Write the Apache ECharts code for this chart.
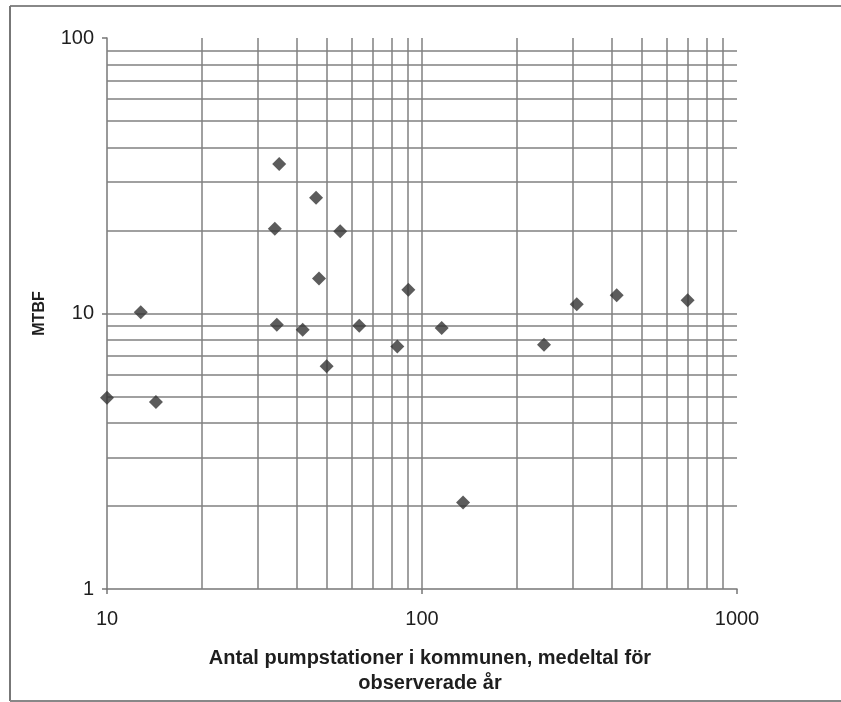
<!DOCTYPE html>
<html>
<head>
<meta charset="utf-8">
<script src="https://cdn.jsdelivr.net/npm/echarts@6/dist/echarts.min.js"></script>
<style>
  html, body { margin: 0; padding: 0; background: #fff; }
  #chart { width: 841px; height: 702px; }
</style>
</head>
<body>
<div id="chart"></div>
<script>
// Antal pumpstationer (x) och MTBF (y) per kommun
const pumpStations = [10, 12.8, 14.3, 35.2, 46.1, 34.1, 55.0, 47.1, 90.5, 34.6, 41.8, 63.2, 115.5, 83.5, 49.8, 135, 244, 310, 415, 697];
const mtbf         = [4.95, 10.1, 4.77, 34.9, 26.3, 20.3, 19.9, 13.4, 12.2, 9.1, 8.73, 9.02, 8.85, 7.59, 6.43, 2.06, 7.70, 10.8, 11.65, 11.17];

// Rutnätslinjer (logaritmiska delstreck)
const xGridValues = [20, 30, 40, 50, 60, 70, 80, 90, 100, 200, 300, 400, 500, 600, 700, 800, 900];
const yGridValues = [2, 3, 4, 5, 6, 7, 8, 9, 10, 20, 30, 40, 50, 60, 70, 80, 90];

const xTitle1 = 'Antal pumpstationer i kommunen, medeltal för';
const xTitle2 = 'observerade år';
const yTitle = 'MTBF';

const points = pumpStations.map((x, i) => [x, mtbf[i]]);
const gridColor = '#808080';
const textColor = '#1e1e1e';
const font = '"Liberation Sans", Arial, sans-serif';

const gridLines = [
  ...xGridValues.map(v => ({ xAxis: v })),
  ...yGridValues.map(v => ({ yAxis: v }))
];

const chart = echarts.init(document.getElementById('chart'), null, { renderer: 'canvas' });
chart.setOption({
  animation: false,
  backgroundColor: '#fff',
  grid: { left: 107, right: 104, top: 38, bottom: 113, containLabel: false },
  xAxis: {
    type: 'log', logBase: 10, min: 10, max: 1000,
    axisLine: { show: true, lineStyle: { color: '#777', width: 1.5 } },
    axisTick: { show: true, length: 5, lineStyle: { color: '#777', width: 1.5 } },
    minorTick: { show: false },
    splitLine: { show: false },
    axisLabel: { color: textColor, fontSize: 20, fontFamily: font, margin: 20,
                 formatter: v => String(Math.round(v)) }
  },
  yAxis: {
    type: 'log', logBase: 10, min: 1, max: 100,
    name: yTitle, nameLocation: 'middle', nameGap: 59, nameRotate: 90,
    nameTextStyle: { color: textColor, fontSize: 16, fontWeight: 'bold', fontFamily: font },
    axisLine: { show: true, lineStyle: { color: '#777', width: 1.5 } },
    axisTick: { show: true, length: 5, lineStyle: { color: '#777', width: 1.5 } },
    minorTick: { show: false },
    splitLine: { show: false },
    axisLabel: { color: textColor, fontSize: 20, fontFamily: font, margin: 13,
                 formatter: v => String(Math.round(v)) }
  },
  graphic: [
    { type: 'text', x: 430, y: 648, z: 10,
      style: { text: xTitle1, fill: textColor, font: 'bold 20px ' + font,
               textAlign: 'center', textVerticalAlign: 'top' } },
    { type: 'text', x: 430, y: 673, z: 10,
      style: { text: xTitle2, fill: textColor, font: 'bold 20px ' + font,
               textAlign: 'center', textVerticalAlign: 'top' } },
    // ram runt diagrammet
    { type: 'line', shape: { x1: 10, y1: 6, x2: 841, y2: 6 }, style: { stroke: '#888', lineWidth: 2 } },
    { type: 'line', shape: { x1: 10, y1: 6, x2: 10, y2: 701 }, style: { stroke: '#777', lineWidth: 2 } },
    { type: 'line', shape: { x1: 10, y1: 701, x2: 841, y2: 701 }, style: { stroke: '#888', lineWidth: 2 } }
  ],
  series: [
    {
      type: 'scatter', data: [], z: 1, silent: true,
      markLine: {
        silent: true, symbol: ['none', 'none'], animation: false,
        label: { show: false },
        lineStyle: { color: gridColor, width: 1.5, type: 'solid' },
        emphasis: { disabled: true },
        data: gridLines
      }
    },
    {
      type: 'scatter', z: 5,
      symbol: 'diamond', symbolSize: 14,
      itemStyle: { color: '#333' },
      data: points
    }
  ]
});
</script>
</body>
</html>
